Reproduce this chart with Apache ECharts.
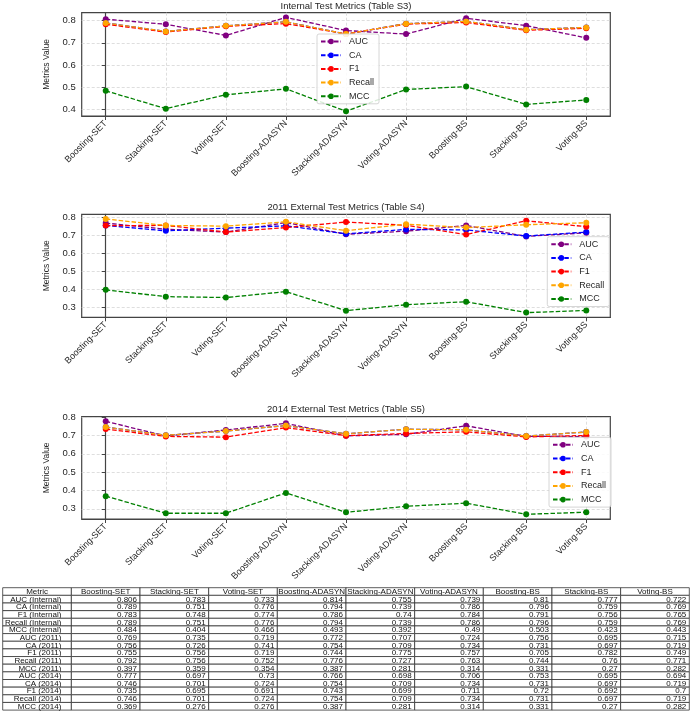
<!DOCTYPE html>
<html lang="en">
<head>
<meta charset="UTF-8">
<title>Test Metrics</title>
<script src="https://cdn.jsdelivr.net/npm/echarts@6/dist/echarts.min.js"></script>
<style>
  html, body { margin: 0; padding: 0; background: #fff; }
</style>
</head>
<body>
<div id="main" style="width: 692px; height: 711px;"></div>
<script>
// model names (x categories / table columns)
var models = ['Boosting-SET', 'Stacking-SET', 'Voting-SET', 'Boosting-ADASYN', 'Stacking-ADASYN',
              'Voting-ADASYN', 'Boosting-BS', 'Stacking-BS', 'Voting-BS'];
var metricNames = ['AUC', 'CA', 'F1', 'Recall', 'MCC'];
var metricColors = ['#800080', '#0000ff', '#ff0000', '#ffa500', '#008000'];
var yTicks = [0.3, 0.4, 0.5, 0.6, 0.7, 0.8];

// Internal test (Table S3)
var aucInternal    = [0.806, 0.783, 0.733, 0.814, 0.755, 0.739, 0.81, 0.777, 0.722];
var caInternal     = [0.789, 0.751, 0.776, 0.794, 0.739, 0.786, 0.796, 0.759, 0.769];
var f1Internal     = [0.783, 0.748, 0.774, 0.786, 0.74, 0.784, 0.791, 0.756, 0.765];
var recallInternal = [0.789, 0.751, 0.776, 0.794, 0.739, 0.786, 0.796, 0.759, 0.769];
var mccInternal    = [0.484, 0.404, 0.466, 0.493, 0.392, 0.49, 0.503, 0.423, 0.443];

// 2011 external test (Table S4)
var auc2011    = [0.769, 0.735, 0.719, 0.772, 0.707, 0.724, 0.756, 0.695, 0.715];
var ca2011     = [0.756, 0.726, 0.741, 0.754, 0.709, 0.734, 0.731, 0.697, 0.719];
var f12011     = [0.755, 0.756, 0.719, 0.744, 0.775, 0.757, 0.705, 0.782, 0.749];
var recall2011 = [0.792, 0.756, 0.752, 0.776, 0.727, 0.763, 0.744, 0.76, 0.771];
var mcc2011    = [0.397, 0.359, 0.354, 0.387, 0.281, 0.314, 0.331, 0.27, 0.282];

// 2014 external test (Table S5)
var auc2014    = [0.777, 0.697, 0.73, 0.766, 0.698, 0.706, 0.753, 0.695, 0.694];
var ca2014     = [0.746, 0.701, 0.724, 0.754, 0.709, 0.734, 0.731, 0.697, 0.719];
var f12014     = [0.735, 0.695, 0.691, 0.743, 0.699, 0.711, 0.72, 0.692, 0.7];
var recall2014 = [0.746, 0.701, 0.724, 0.754, 0.709, 0.734, 0.731, 0.697, 0.719];
var mcc2014    = [0.369, 0.276, 0.276, 0.387, 0.281, 0.314, 0.331, 0.27, 0.282];

var panels = [
  { title: 'Internal Test Metrics (Table S3)', tag: 'Internal',
    sets: [aucInternal, caInternal, f1Internal, recallInternal, mccInternal] },
  { title: '2011 External Test Metrics (Table S4)', tag: '2011',
    sets: [auc2011, ca2011, f12011, recall2011, mcc2011] },
  { title: '2014 External Test Metrics (Table S5)', tag: '2014',
    sets: [auc2014, ca2014, f12014, recall2014, mcc2014] }
];

var FONT = '"Liberation Sans", Arial, sans-serif';
var TXT = '#262626';
var FRAME = '#444';
var GRIDLINE = '#d6d6d6';

// layout of the three plot panels
var plotLeft = 81.7, plotWidth = 528.6;
var plotTops = [12.7, 214.3, 416.7];
var plotHeights = [103.3, 103, 102.3];
var titleTops = [1.5, 202, 404];
var legendBoxes = [{ left: 317, top: 34 }, { left: 547.3, top: 236.7 }, { left: 549, top: 437.3 }];

// matplotlib-like auto limits (5% margin)
function limits(sets) {
  var all = [].concat.apply([], sets);
  var lo = Math.min.apply(null, all), hi = Math.max.apply(null, all);
  var pad = (hi - lo) * 0.05;
  return [lo - pad, hi + pad];
}

var grids = [], xAxes = [], yAxes = [], series = [], titles = [], legends = [];

panels.forEach(function (p, g) {
  grids.push({ left: plotLeft, top: plotTops[g], width: plotWidth, height: plotHeights[g],
    show: true, borderColor: FRAME, borderWidth: 1.2, backgroundColor: '#fff', outerBoundsMode: 'none' });
  titles.push({ text: p.title, left: plotLeft + plotWidth / 2, top: titleTops[g], textAlign: 'center', padding: 0,
    textStyle: { fontFamily: FONT, fontSize: 9.5, fontWeight: 'normal', color: TXT } });
  var lim = limits(p.sets);
  xAxes.push({
    type: 'value', gridIndex: g, min: -0.4, max: 8.4,
    axisLine: { show: true, onZero: false, lineStyle: { color: FRAME, width: 1.2 } },
    axisTick: { show: true, length: 4, customValues: [0, 1, 2, 3, 4, 5, 6, 7, 8], lineStyle: { color: FRAME, width: 1 } },
    axisLabel: { customValues: [0, 1, 2, 3, 4, 5, 6, 7, 8], rotate: 45, margin: 6,
      fontFamily: FONT, fontSize: 9, color: TXT,
      formatter: function (v) { return models[Math.round(v)]; } },
    splitLine: { show: true, lineStyle: { color: GRIDLINE, type: [3, 2], width: 0.8 } }
  });
  yAxes.push({
    type: 'value', gridIndex: g, min: lim[0], max: lim[1],
    name: 'Metrics Value', nameLocation: 'middle', nameGap: 24,
    nameTextStyle: { fontFamily: FONT, fontSize: 8.5, color: TXT },
    axisLine: { show: true, lineStyle: { color: FRAME, width: 1.2 } },
    axisTick: { show: true, length: 4, customValues: yTicks, lineStyle: { color: FRAME, width: 1 } },
    axisLabel: { customValues: yTicks, margin: 6, fontFamily: FONT, fontSize: 9.5, color: TXT,
      formatter: function (v) { return v.toFixed(1); } },
    splitLine: { show: true, lineStyle: { color: GRIDLINE, type: [3, 2], width: 0.8 } }
  });
  metricNames.forEach(function (m, k) {
    series.push({
      type: 'line', name: m, xAxisIndex: g, yAxisIndex: g,
      data: p.sets[k].map(function (v, i) { return [i, v]; }),
      symbol: 'circle', symbolSize: 6, showSymbol: true,
      lineStyle: { color: metricColors[k], width: 1.3, type: [4.5, 2] },
      itemStyle: { color: metricColors[k] },
      z: 2 + k * 0.01, emphasis: { disabled: true }, animation: false
    });
  });
  legends.push({
    data: metricNames, orient: 'vertical', left: legendBoxes[g].left, top: legendBoxes[g].top,
    itemWidth: 20, itemHeight: 7, itemGap: 4.7, padding: [3, 5, 3, 3],
    backgroundColor: 'rgba(255,255,255,0.85)', borderColor: '#cccccc', borderWidth: 0.8, borderRadius: 2,
    selectedMode: false,
    textStyle: { fontFamily: FONT, fontSize: 9, color: TXT, padding: [0, 0, 0, 3] }
  });
});

// table built from the same arrays
var tableHeader = ['Metric'].concat(models);
var tableRows = [];
panels.forEach(function (p) {
  metricNames.forEach(function (m, k) {
    tableRows.push([m + ' (' + p.tag + ')'].concat(p.sets[k].map(function (v) { return String(v); })));
  });
});
var tableLines = [tableHeader].concat(tableRows);
var cellData = [], cellText = [];
tableLines.forEach(function (row, r) {
  row.forEach(function (t, c) {
    cellData.push([c, r]);
    cellText.push(t);
  });
});

grids.push({ left: 2.7, top: 587.7, width: 686.6, height: 122.4, show: false, outerBoundsMode: 'none' });
xAxes.push({ type: 'category', gridIndex: 3, data: tableHeader, show: false });
yAxes.push({ type: 'category', gridIndex: 3, data: tableLines.map(function (r, i) { return String(i); }),
  inverse: true, show: false });

series.push({
  type: 'custom', name: 'table', xAxisIndex: 3, yAxisIndex: 3, data: cellData, animation: false,
  renderItem: function (params, api) {
    var c = api.value(0), r = api.value(1);
    var pt = api.coord([c, r]);
    var sz = api.size([1, 1]);
    var x0 = pt[0] - sz[0] / 2, y0 = pt[1] - sz[1] / 2;
    var align, tx;
    if (r === 0) { align = 'center'; tx = pt[0]; }
    else if (c === 0) { align = 'right'; tx = x0 + sz[0] - 10; }
    else { align = 'right'; tx = x0 + sz[0] - 3; }
    return {
      type: 'group',
      children: [
        { type: 'rect', shape: { x: x0, y: y0, width: sz[0], height: sz[1] },
          style: { fill: '#fff', stroke: '#333', lineWidth: 0.8 } },
        { type: 'text', style: { text: cellText[params.dataIndex], x: tx, y: pt[1] + 0.3,
          align: align, verticalAlign: 'middle', fill: '#111', fontFamily: FONT, fontSize: 8 } }
      ]
    };
  }
});

var chart = echarts.init(document.getElementById('main'), null, { renderer: 'canvas' });
chart.setOption({
  backgroundColor: '#ffffff',
  animation: false,
  title: titles,
  legend: legends,
  grid: grids,
  xAxis: xAxes,
  yAxis: yAxes,
  series: series
});
</script>
</body>
</html>
